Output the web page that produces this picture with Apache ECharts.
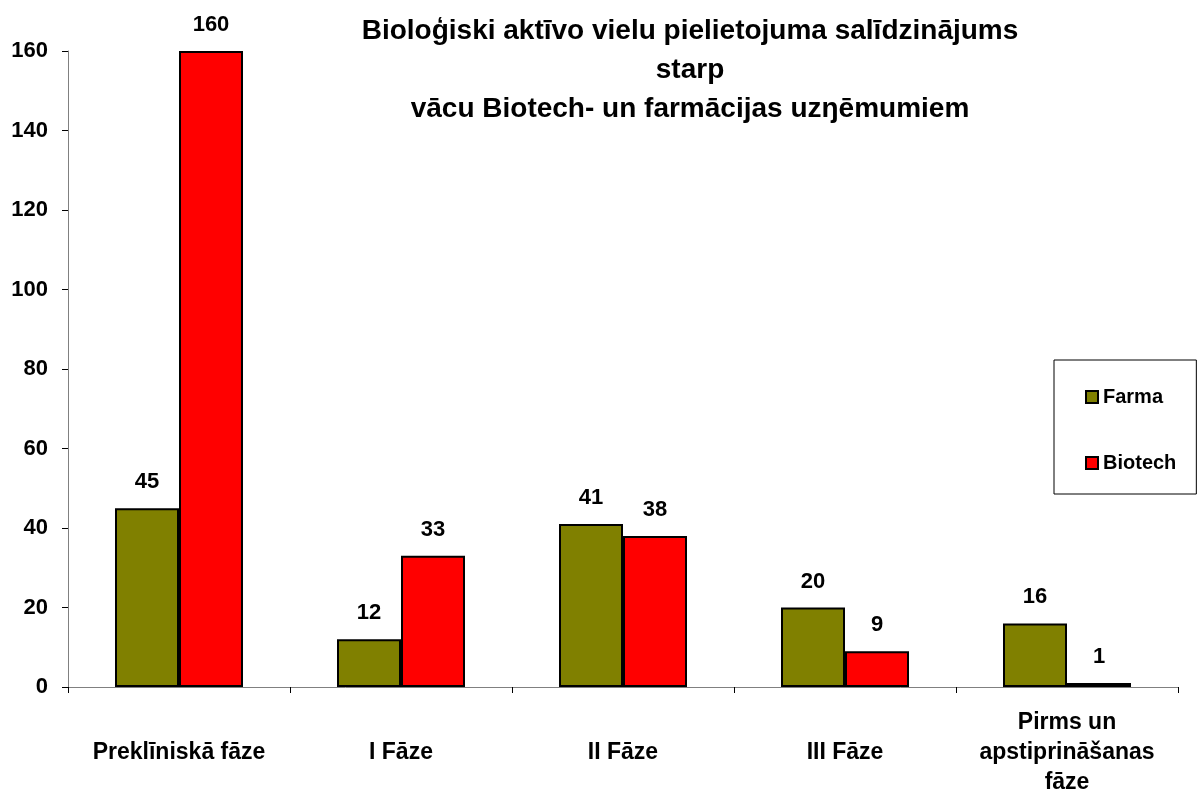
<!DOCTYPE html>
<html lang="lv">
<head>
    <meta charset="UTF-8">
    <title>Biotech un Farma</title>
    <style>
        html, body { margin: 0; padding: 0; background: #fff; }
        #chart { width: 1198px; height: 794px; }
    </style>
</head>
<body>
<div id="chart"></div>
<script src="https://cdn.jsdelivr.net/npm/echarts@6/dist/echarts.min.js"></script>
<script>
    // dati
    var categories = ['Preklīniskā fāze', 'I Fāze', 'II Fāze', 'III Fāze', 'Pirms un\napstiprināšanas\nfāze'];
    var farma = [45, 12, 41, 20, 16];
    var biotech = [160, 33, 38, 9, 1];
    var yTicks = [0, 20, 40, 60, 80, 100, 120, 140, 160];

    var font = 'Liberation Sans, Arial, sans-serif';
    var titleText = 'Bioloģiski aktīvo vielu pielietojuma salīdzinājums\nstarp\nvācu Biotech- un farmācijas uzŋēmumiem';

    var chart = echarts.init(document.getElementById('chart'));
    var option = {
        animation: false,
        backgroundColor: '#fff',
        graphic: [{
            type: 'text',
            x: 690,
            y: 12,
            style: {
                text: titleText,
                align: 'center',
                verticalAlign: 'top',
                fontFamily: font,
                fontWeight: 'bold',
                fontSize: 28,
                lineHeight: 39,
                fill: '#000'
            }
        }],
        legend: {
            orient: 'vertical',
            left: 1054,
            top: 360,
            padding: [27, 20, 21, 31],
            itemGap: 46,
            itemWidth: 12,
            itemHeight: 12,
            borderColor: '#000',
            borderWidth: 1,
            icon: 'rect',
            textStyle: {fontFamily: font, fontWeight: 'bold', fontSize: 20, lineHeight: 20, color: '#000'},
            data: ['Farma', 'Biotech']
        },
        grid: {left: 68, right: 20, top: 51, bottom: 107, containLabel: false, outerBoundsMode: 'none'},
        xAxis: {
            type: 'category',
            data: categories,
            axisLine: {lineStyle: {color: '#808080', width: 1}},
            axisTick: {show: true, length: 6, lineStyle: {color: '#000'}},
            axisLabel: {
                interval: 0,
                margin: 66,
                verticalAlign: 'middle',
                lineHeight: 30,
                fontFamily: font,
                fontWeight: 'bold',
                fontSize: 23,
                color: '#000'
            }
        },
        yAxis: {
            type: 'value',
            min: 0,
            max: yTicks[yTicks.length - 1],
            interval: yTicks[1] - yTicks[0],
            splitLine: {show: false},
            axisLine: {show: true, lineStyle: {color: '#808080', width: 1}},
            axisTick: {show: true, length: 6, lineStyle: {color: '#000'}},
            axisLabel: {
                margin: 20,
                fontFamily: font,
                fontWeight: 'bold',
                fontSize: 22,
                color: '#000'
            }
        },
        series: [
            {
                name: 'Farma',
                type: 'bar',
                data: farma,
                barWidth: 64,
                barGap: '0%',
                itemStyle: {color: '#808000', borderColor: '#000', borderWidth: 2},
                label: {
                    show: true, position: 'top', distance: 15,
                    fontFamily: font, fontWeight: 'bold', fontSize: 22, color: '#000'
                }
            },
            {
                name: 'Biotech',
                type: 'bar',
                data: biotech,
                barWidth: 64,
                barGap: '0%',
                itemStyle: {color: '#ff0000', borderColor: '#000', borderWidth: 2},
                label: {
                    show: true, position: 'top', distance: 15,
                    fontFamily: font, fontWeight: 'bold', fontSize: 22, color: '#000'
                }
            }
        ]
    };
    chart.setOption(option);
</script>
</body>
</html>
